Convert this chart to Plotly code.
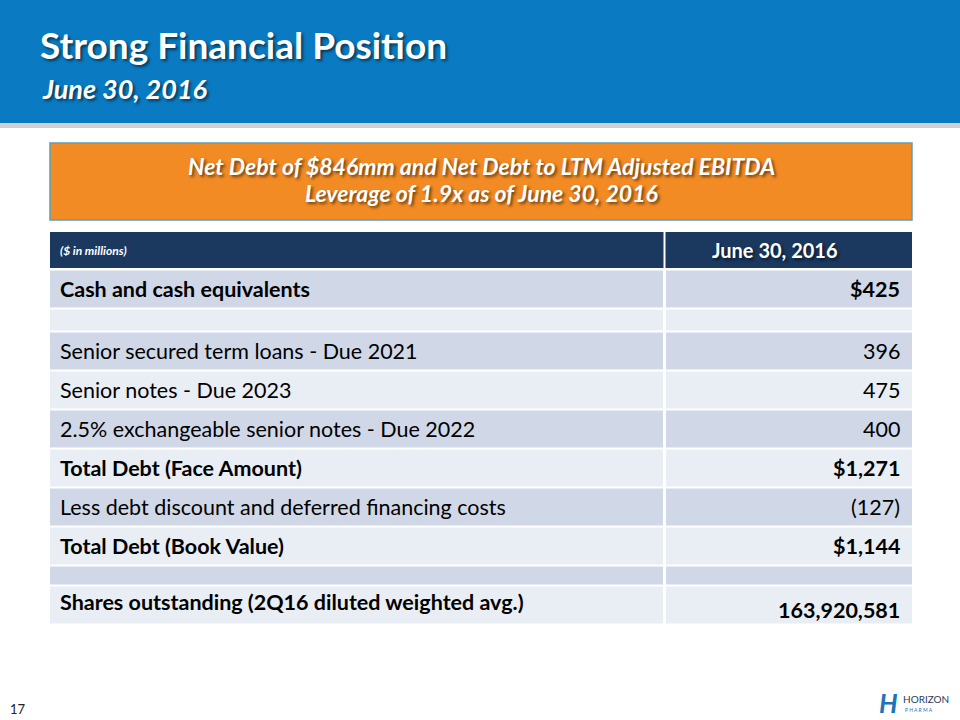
import plotly.graph_objects as go

# ---------------- data ----------------
title = "Strong Financial Position"
subtitle = "June 30, 2016"
callout_lines = ["Net Debt of $846mm and Net Debt to LTM Adjusted EBITDA",
                 "Leverage of 1.9x as of June 30, 2016"]
header_left = "($ in millions)"
header_right = "June 30, 2016"
row_labels = ["Cash and cash equivalents", "",
              "Senior secured term loans - Due 2021",
              "Senior notes - Due 2023",
              "2.5% exchangeable senior notes - Due 2022",
              "Total Debt (Face Amount)",
              "Less debt discount and deferred financing costs",
              "Total Debt (Book Value)", "",
              "Shares outstanding (2Q16 diluted weighted avg.)"]
row_values = ["$425", "", "396", "475", "400", "$1,271", "(127)", "$1,144", "",
              "163,920,581"]
row_bold = [True, False, False, False, False, True, False, True, False, True]
page_number = "17"

# ---------------- layout helpers ----------------
W, H = 960, 720
FONT = "Lato"
X0, XS, X1 = 50, 664.5, 912
row_h = [37, 21, 37, 37, 37, 37, 37, 37, 18, 37]
gap = 2
DARK, LIGHT = "#D0D8E8", "#E9EDF4"

fig = go.Figure()
fig.add_trace(go.Scatter(x=[0, W], y=[0, H], mode="markers",
                         marker=dict(opacity=0), hoverinfo="skip", showlegend=False))
shapes = []
ann = []

# top blue band with shadow
shapes.append(dict(type="rect", x0=0, x1=W, y0=118, y1=128, line_width=0,
                   fillcolor="rgba(120,120,120,0.35)", layer="below"))
shapes.append(dict(type="rect", x0=0, x1=W, y0=0, y1=123, line_width=0,
                   fillcolor="#0A7BC2", layer="below"))
shadow = "2px 2px 3px rgba(0,0,0,0.55)"
ann.append(dict(x=38, y=44, text="<b>%s</b>" % title, xanchor="left", yanchor="middle",
                showarrow=False, font=dict(family=FONT, size=37, color="white", shadow=shadow)))
ann.append(dict(x=40, y=88, text="<b><i>%s</i></b>" % subtitle, xanchor="left", yanchor="middle",
                showarrow=False, font=dict(family=FONT, size=27, color="white", shadow=shadow)))

# orange callout
shapes.append(dict(type="rect", x0=X0, x1=X1, y0=143, y1=220, fillcolor="#F28B24",
                   line=dict(color="#5E9DB8", width=1.5), layer="below"))
for i, line in enumerate(callout_lines):
    ann.append(dict(x=(X0 + X1) / 2, y=166 + i * 27, text="<b><i>%s</i></b>" % line,
                    xanchor="center", yanchor="middle", showarrow=False,
                    font=dict(family=FONT, size=23, color="white", shadow=shadow)))

# table header
shapes.append(dict(type="rect", x0=X0, x1=XS - 1, y0=232, y1=268, fillcolor="#1B385F",
                   line_width=0, layer="below"))
shapes.append(dict(type="rect", x0=XS + 1, x1=X1, y0=232, y1=268, fillcolor="#1B385F",
                   line_width=0, layer="below"))
ann.append(dict(x=58, y=250, text="<b><i>%s</i></b>" % header_left, xanchor="left",
                yanchor="middle", showarrow=False, font=dict(family=FONT, size=12, color="white")))
ann.append(dict(x=840, y=250, text="<b>%s</b>" % header_right, xanchor="right",
                yanchor="middle", showarrow=False,
                font=dict(family=FONT, size=20, color="white", shadow=shadow)))

# body rows
y = 270.5
for i, (lab, val, b, h) in enumerate(zip(row_labels, row_values, row_bold, row_h)):
    col = DARK if i % 2 == 0 else LIGHT
    shapes.append(dict(type="rect", x0=X0, x1=XS - 1.5, y0=y, y1=y + h, fillcolor=col,
                       line_width=0, layer="below"))
    shapes.append(dict(type="rect", x0=XS + 1.5, x1=X1, y0=y, y1=y + h, fillcolor=col,
                       line_width=0, layer="below"))
    cy = y + h / 2
    is_last = i == len(row_labels) - 1
    if lab:
        ann.append(dict(x=58, y=cy - (3 if is_last else 0),
                        text=("<b>%s</b>" % lab) if b else lab,
                        xanchor="left", yanchor="middle", showarrow=False,
                        font=dict(family=FONT, size=21.5, color="black")))
    if val:
        ann.append(dict(x=902, y=cy + (5 if is_last else 0),
                        text=("<b>%s</b>" % val) if b else val,
                        xanchor="right", yanchor="middle", showarrow=False,
                        font=dict(family=FONT, size=21.5, color="black")))
    y += h + gap

# page number and logo
ann.append(dict(x=8, y=709, text=page_number, xanchor="left", yanchor="middle",
                showarrow=False, font=dict(family=FONT, size=13, color="#222222")))
ann.append(dict(x=888, y=703, text="<b><i>H</i></b>", xanchor="center", yanchor="middle",
                showarrow=False, font=dict(family=FONT, size=26, color="#1C75BC")))
ann.append(dict(x=901, y=699, text="HORIZON", xanchor="left", yanchor="middle",
                showarrow=False, font=dict(family=FONT, size=10, color="#2A3A55")))
ann.append(dict(x=903, y=710, text="P H A R M A", xanchor="left", yanchor="middle",
                showarrow=False, font=dict(family=FONT, size=5, color="#1C75BC")))

fig.update_layout(
    width=W, height=H, margin=dict(l=0, r=0, t=0, b=0),
    paper_bgcolor="white", plot_bgcolor="white",
    xaxis=dict(range=[0, W], visible=False, fixedrange=True),
    yaxis=dict(range=[H, 0], visible=False, fixedrange=True),
    shapes=shapes, annotations=ann, showlegend=False,
)
fig.write_html("out.html", config={"displayModeBar": False},
               post_script="document.body.style.margin='0';document.body.style.overflow='hidden';")
